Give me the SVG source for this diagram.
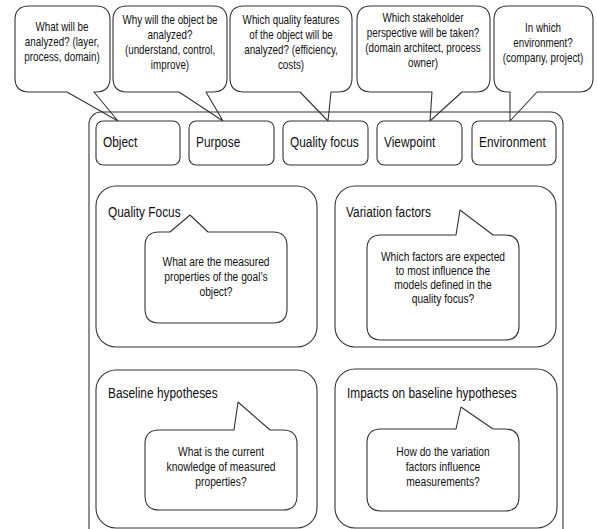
<svg xmlns="http://www.w3.org/2000/svg" width="597" height="529" viewBox="0 0 597 529">
<style>
  .bub { fill: #fff; stroke: #333; stroke-width: 1.1; stroke-linejoin: round; }
  .frame { fill: none; stroke: #333; stroke-width: 1.1; }
  .box { fill: #fff; stroke: #333; stroke-width: 1.1; }
  text { font-family: "Liberation Sans", Arial, sans-serif; fill: #111; }
  .q { font-size: 12px; text-anchor: middle; }
  .lbl { font-size: 14.5px; }
  .in { font-size: 12.5px; text-anchor: middle; }
</style>
<rect width="597" height="529" fill="#fff"/>

<g id="connectors">
  <!-- callout tails are drawn as part of the callout outlines -->
</g>

<g id="callout-object">
  <path class="bub" d="M29,6 H96 Q110,6 110,20 V78 Q110,92 96,92 H94 L118,121 L67,92 H29 Q15,92 15,78 V20 Q15,6 29,6 Z"/>
  <g transform="translate(62,0) scale(0.82,1)">
    <text class="q" x="0" y="31">What will be</text>
    <text class="q" x="0" y="46">analyzed? (layer,</text>
    <text class="q" x="0" y="61">process, domain)</text>
  </g>
</g>
<g id="callout-purpose">
  <path class="bub" d="M127,6 H213 Q227,6 227,20 V78 Q227,92 213,92 H206 L223,121 L179,92 H127 Q113,92 113,78 V20 Q113,6 127,6 Z"/>
  <g transform="translate(170,0) scale(0.82,1)">
    <text class="q" x="0" y="24">Why will the object be</text>
    <text class="q" x="0" y="39">analyzed?</text>
    <text class="q" x="0" y="54">(understand, control,</text>
    <text class="q" x="0" y="69">improve)</text>
  </g>
</g>
<g id="callout-quality">
  <path class="bub" d="M244,6 H338 Q352,6 352,20 V78 Q352,92 338,92 H331 L328,121 L300,92 H244 Q230,92 230,78 V20 Q230,6 244,6 Z"/>
  <g transform="translate(291,0) scale(0.82,1)">
    <text class="q" x="0" y="24">Which quality features</text>
    <text class="q" x="0" y="39">of the object will be</text>
    <text class="q" x="0" y="54">analyzed? (efficiency,</text>
    <text class="q" x="0" y="69">costs)</text>
  </g>
</g>
<g id="callout-viewpoint">
  <path class="bub" d="M371,6 H476 Q490,6 490,20 V78 Q490,92 476,92 H462 L430,121 L432,92 H371 Q357,92 357,78 V20 Q357,6 371,6 Z"/>
  <g transform="translate(423,0) scale(0.82,1)">
    <text class="q" x="0" y="22">Which stakeholder</text>
    <text class="q" x="0" y="37">perspective will be taken?</text>
    <text class="q" x="0" y="52">(domain architect, process</text>
    <text class="q" x="0" y="67">owner)</text>
  </g>
</g>
<g id="callout-environment">
  <path class="bub" d="M508,6 H579 Q593,6 593,20 V78 Q593,92 579,92 H537 L510,121 L510,92 H508 Q494,92 494,78 V20 Q494,6 508,6 Z"/>
  <g transform="translate(543,0) scale(0.82,1)">
    <text class="q" x="0" y="32">In which</text>
    <text class="q" x="0" y="47">environment?</text>
    <text class="q" x="0" y="62">(company, project)</text>
  </g>
</g>

<g id="goal-frame">
  <rect class="frame" x="89" y="112" width="474" height="440" rx="12"/>
</g>

<g id="object"><rect class="box" x="96" y="121" width="84" height="44" rx="7"/><text class="lbl" transform="translate(103,147) scale(0.82,1)">Object</text></g>
<g id="purpose"><rect class="box" x="189" y="121" width="85" height="44" rx="7"/><text class="lbl" transform="translate(196,147) scale(0.82,1)">Purpose</text></g>
<g id="quality-focus"><rect class="box" x="283" y="121" width="85" height="44" rx="7"/><text class="lbl" transform="translate(290,147) scale(0.82,1)">Quality focus</text></g>
<g id="viewpoint"><rect class="box" x="377" y="121" width="85" height="44" rx="7"/><text class="lbl" transform="translate(384,147) scale(0.82,1)">Viewpoint</text></g>
<g id="environment"><rect class="box" x="472" y="121" width="84" height="44" rx="7"/><text class="lbl" transform="translate(479,147) scale(0.82,1)">Environment</text></g>

<g id="panel-quality-focus">
  <rect class="frame" x="96" y="186" width="221" height="161" rx="20"/>
  <text class="lbl" transform="translate(108,217) scale(0.82,1)">Quality Focus</text>
  <path class="bub" d="M159,232 H170 L190,215 L208,232 H273 Q287,232 287,246 V309 Q287,323 273,323 H159 Q145,323 145,309 V246 Q145,232 159,232 Z"/>
  <g transform="translate(216,0) scale(0.82,1)">
    <text class="in" x="0" y="266">What are the measured</text>
    <text class="in" x="0" y="281">properties of the goal’s</text>
    <text class="in" x="0" y="296">object?</text>
  </g>
</g>

<g id="panel-variation-factors">
  <rect class="frame" x="335" y="186" width="221" height="161" rx="20"/>
  <text class="lbl" transform="translate(346,217) scale(0.82,1)">Variation factors</text>
  <path class="bub" d="M381,235 H456 L460,210 L493,235 H505 Q519,235 519,249 V326 Q519,340 505,340 H381 Q367,340 367,326 V249 Q367,235 381,235 Z"/>
  <g transform="translate(443,0) scale(0.82,1)">
    <text class="in" x="0" y="261">Which factors are expected</text>
    <text class="in" x="0" y="275">to most influence the</text>
    <text class="in" x="0" y="289">models defined in the</text>
    <text class="in" x="0" y="303">quality focus?</text>
  </g>
</g>

<g id="panel-baseline-hypotheses">
  <rect class="frame" x="96" y="370" width="221" height="158" rx="20"/>
  <text class="lbl" transform="translate(108,398) scale(0.82,1)">Baseline hypotheses</text>
  <path class="bub" d="M159,430 H234 L238,402 L270,430 H283 Q297,430 297,444 V496 Q297,510 283,510 H159 Q145,510 145,496 V444 Q145,430 159,430 Z"/>
  <g transform="translate(221,0) scale(0.82,1)">
    <text class="in" x="0" y="456">What is the current</text>
    <text class="in" x="0" y="471">knowledge of measured</text>
    <text class="in" x="0" y="486">properties?</text>
  </g>
</g>

<g id="panel-impacts">
  <rect class="frame" x="335" y="369" width="222" height="159" rx="20"/>
  <text class="lbl" transform="translate(347,398) scale(0.82,1)">Impacts on baseline hypotheses</text>
  <path class="bub" d="M381,429 H456 L461,407 L493,429 H505 Q519,429 519,443 V497 Q519,511 505,511 H381 Q367,511 367,497 V443 Q367,429 381,429 Z"/>
  <g transform="translate(443,0) scale(0.82,1)">
    <text class="in" x="0" y="456">How do the variation</text>
    <text class="in" x="0" y="471">factors influence</text>
    <text class="in" x="0" y="486">measurements?</text>
  </g>
</g>
</svg>
